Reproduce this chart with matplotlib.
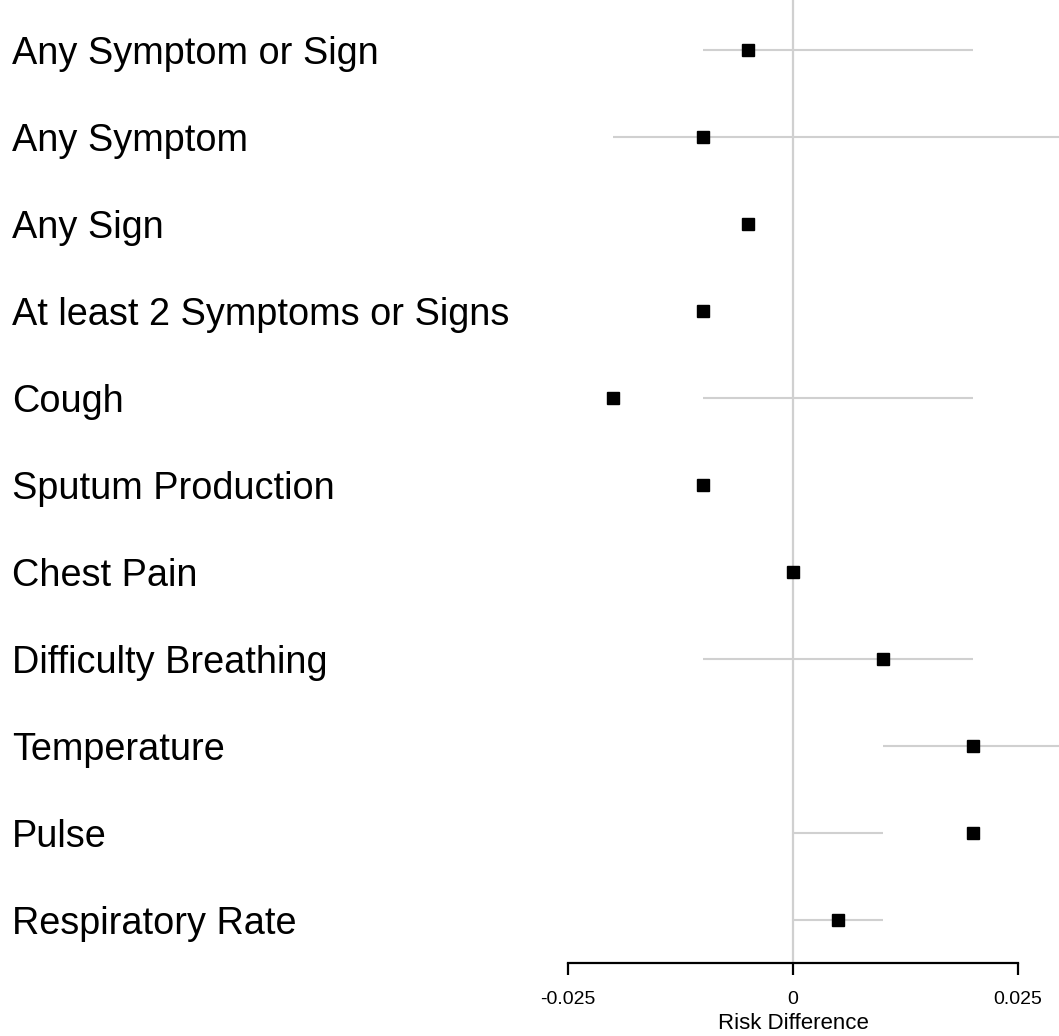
import matplotlib
matplotlib.use("Agg")
import matplotlib.pyplot as plt
import matplotlib.transforms as mtransforms

## --- Data ---
outcomes = [
    "Any Symptom or Sign",
    "Any Symptom",
    "Any Sign",
    "At least 2 Symptoms or Signs",
    "Cough",
    "Sputum Production",
    "Chest Pain",
    "Difficulty Breathing",
    "Temperature",
    "Pulse",
    "Respiratory Rate",
]
estimate = [-0.005, -0.01, -0.005, -0.01, -0.02, -0.01, 0.0, 0.01, 0.02, 0.02, 0.005]
ci_lower = [-0.01, -0.02, -0.005, -0.01, -0.01, -0.01, 0.0, -0.01, 0.01, 0.0, 0.0]
ci_upper = [0.02, 0.03, -0.005, -0.01, 0.02, -0.01, 0.0, 0.02, 0.03, 0.01, 0.01]
x_ticks = [-0.025, 0, 0.025]
x_tick_labels = ["-0.025", "0", "0.025"]

## --- Settings ---
W, H, DPI = 1059, 1036, 100
LINE_GREY = "#d0d0d0"
plt.rcParams["font.family"] = ["Liberation Sans", "DejaVu Sans"]


def main():
    fig = plt.figure(figsize=(W / DPI, H / DPI), dpi=DPI)
    ax_bottom = (H - 963) / H
    ax = fig.add_axes([0, ax_bottom, 1, 1 - ax_bottom])

    rows = list(range(len(outcomes)))

    # reference line at zero
    ax.axvline(0, color=LINE_GREY, lw=1.6, zorder=1)

    # confidence intervals and point estimates
    ax.hlines(rows, ci_lower, ci_upper, color=LINE_GREY, lw=1.5, zorder=2)
    ax.plot(estimate, rows, "s", color="black", markersize=8.3, zorder=3)

    # outcome labels on the left
    trans = mtransforms.blended_transform_factory(ax.transAxes, ax.transData)
    for r, name in zip(rows, outcomes):
        ax.text(12 / W, r, name, transform=trans, fontsize=27.3,
                va="center_baseline", ha="left")

    ax.set_xlim(-793 / 9000, 266 / 9000)
    ax.set_ylim((963 - 50) / 87, -50 / 87)

    for side in ["top", "left", "right"]:
        ax.spines[side].set_visible(False)
    ax.spines["bottom"].set_bounds(-0.025, 0.025)
    ax.spines["bottom"].set_linewidth(1.6)
    ax.set_yticks([])
    ax.set_xticks(x_ticks)
    ax.set_xticklabels(x_tick_labels, fontsize=14)
    ax.tick_params(axis="x", length=8.5, width=1.6, pad=12)
    ax.set_xlabel("Risk Difference", fontsize=16)
    ax.xaxis.set_label_coords(793 / W, -(1013 - 963) / 963)

    fig.savefig("out.png", dpi=DPI)
    plt.close(fig)


if __name__ == "__main__":
    main()
